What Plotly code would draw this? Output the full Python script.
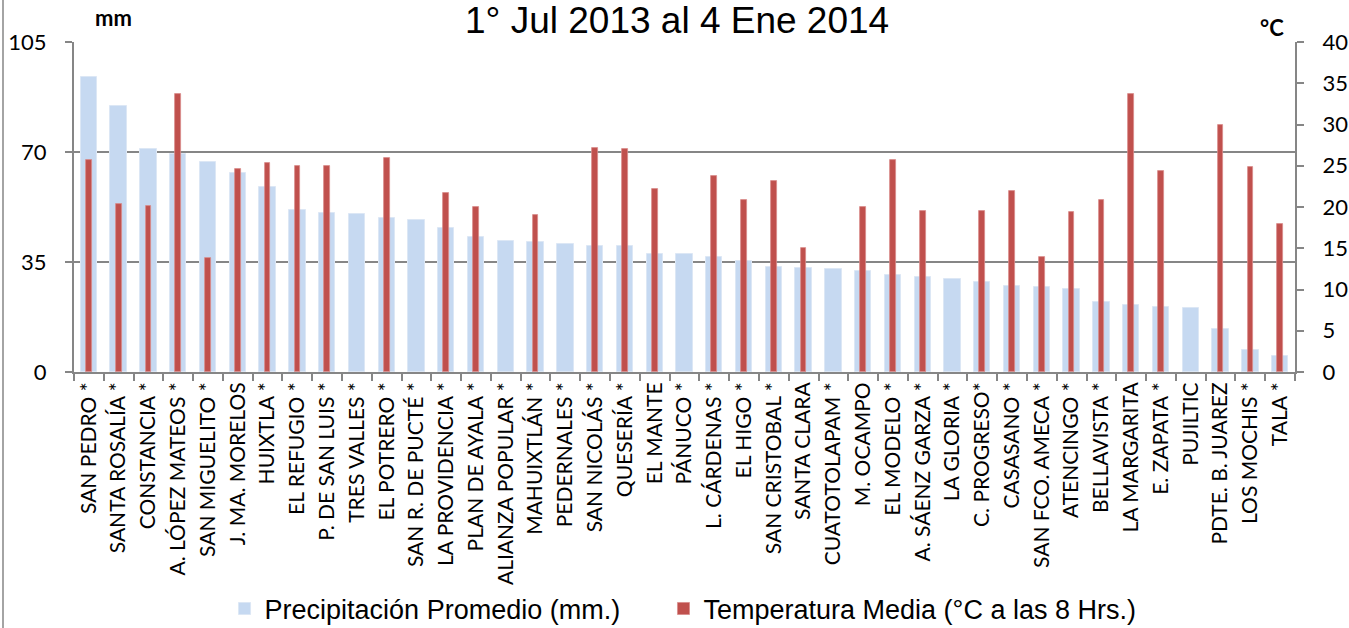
import plotly.graph_objects as go

stations = ["SAN PEDRO *", "SANTA ROSALÍA *", "CONSTANCIA *", "A. LÓPEZ MATEOS *", "SAN MIGUELITO *",
            "J. MA. MORELOS", "HUIXTLA *", "EL REFUGIO *", "P. DE SAN LUIS *", "TRES VALLES *",
            "EL POTRERO *", "SAN R. DE PUCTÉ *", "LA PROVIDENCIA *", "PLAN DE AYALA *", "ALIANZA POPULAR *",
            "MAHUIXTLÁN *", "PEDERNALES *", "SAN NICOLÁS *", "QUESERÍA *", "EL MANTE",
            "PÁNUCO *", "L. CÁRDENAS *", "EL HIGO *", "SAN CRISTOBAL *", "SANTA CLARA",
            "CUATOTOLAPAM *", "M. OCAMPO", "EL MODELO *", "A. SÁENZ GARZA *", "LA GLORIA *",
            "C. PROGRESO*", "CASASANO *", "SAN FCO. AMECA *", "ATENCINGO *", "BELLAVISTA *",
            "LA MARGARITA", "E. ZAPATA *", "PUJILTIC", "PDTE. B. JUAREZ", "LOS MOCHIS *", "TALA *"]

precip_mm = [93.8, 84.7, 71.0, 69.3, 66.7, 63.2, 58.9, 51.6, 50.6, 50.2,
             49.0, 48.3, 45.8, 43.0, 41.6, 41.5, 40.7, 40.1, 40.0, 37.5,
             37.5, 36.6, 35.3, 33.4, 33.1, 32.8, 32.0, 30.9, 30.2, 29.7,
             28.5, 27.3, 27.2, 26.5, 22.4, 21.4, 20.8, 20.3, 13.8, 7.1, 5.2]

temp_c = [25.7, 20.4, 20.1, 33.7, 13.8, 24.6, 25.3, 25.0, 25.0, None,
          25.9, None, 21.7, 20.0, None, 19.0, None, 27.2, 27.0, 22.2,
          None, 23.7, 20.9, 23.1, 15.0, None, 20.0, 25.7, 19.5, None,
          19.5, 22.0, 14.0, 19.4, 20.9, 33.7, 24.4, None, 30.0, 24.9, 17.9]

mm_ticks = [0, 35, 70, 105]
c_ticks = [0, 5, 10, 15, 20, 25, 30, 35, 40]

title_text = "1° Jul 2013 al 4 Ene 2014"
precip_name = "Precipitación Promedio (mm.)"
temp_name = "Temperatura Media (°C a las 8 Hrs.)"

GRAY = "#868686"
LATO = "Lato, Open Sans, sans-serif"
ARIAL = "Liberation Sans, Arial, sans-serif"
XTICKFONT = dict(family=LATO, size=21, color="black")
YTICKFONT = dict(family=LATO, size=22, color="black")
LEGFONT = dict(family=ARIAL, size=27, color="black")

fig = go.Figure()
fig.add_trace(go.Bar(
    x=stations, y=precip_mm, name=precip_name, width=0.55,
    marker=dict(color="#c6d9f1", line=dict(color="#dce7f5", width=1)),
    yaxis="y", legend="legend",
))
fig.add_trace(go.Bar(
    x=stations, y=temp_c, name=temp_name, width=0.19,
    marker=dict(color="#c0504d", line=dict(color="#d98c8a", width=0.8)),
    yaxis="y2", legend="legend2",
))

fig.update_layout(
    width=1349, height=628,
    margin=dict(l=74, r=54, t=42, b=256, pad=0, autoexpand=False),
    paper_bgcolor="white", plot_bgcolor="white",
    barmode="overlay",
    bargap=0,
    xaxis=dict(
        type="category", range=[-0.5, len(stations) - 0.5],
        showline=True, linecolor=GRAY, linewidth=2,
        ticks="outside", tickson="boundaries", ticklen=7, tickcolor=GRAY, tickwidth=1.5,
        tickangle=-90, tickfont=XTICKFONT, automargin=False, showgrid=False,
    ),
    yaxis=dict(
        range=[0, 105], tickvals=mm_ticks, showgrid=True, gridcolor=GRAY, gridwidth=2,
        showline=True, linecolor=GRAY, linewidth=2, ticks="outside", ticklen=7,
        tickcolor=GRAY, tickwidth=1.5, tickfont=YTICKFONT, zeroline=False, automargin=False,
        ticklabelstandoff=14,
    ),
    yaxis2=dict(
        range=[0, 40], tickvals=c_ticks, overlaying="y", side="right", showgrid=False,
        showline=True, linecolor=GRAY, linewidth=2, ticks="outside", ticklen=7,
        tickcolor=GRAY, tickwidth=1.5, tickfont=YTICKFONT, zeroline=False, automargin=False,
        ticklabelstandoff=14,
    ),
    legend=dict(
        orientation="h", x=0.1233, y=-0.718, xanchor="left", yanchor="middle",
        font=LEGFONT, itemclick=False, bgcolor="rgba(0,0,0,0)",
    ),
    legend2=dict(
        orientation="h", x=0.4828, y=-0.718, xanchor="left", yanchor="middle",
        font=LEGFONT, itemclick=False, bgcolor="rgba(0,0,0,0)",
    ),
    showlegend=True,
)

fig.add_annotation(text=title_text, xref="paper", yref="paper", x=(677 - 74) / 1221, y=1 + 44 / 330,
                   xanchor="center", yanchor="top", showarrow=False,
                   font=dict(family=ARIAL, size=37, color="black"))
fig.add_annotation(text="<b>mm</b>", xref="paper", yref="paper", x=(113 - 74) / 1221,
                   y=(372 - 18) / 330, xanchor="center", yanchor="middle", showarrow=False,
                   font=dict(family=LATO, size=22, color="black"))
fig.add_annotation(text="<b>°C</b>", xref="paper", yref="paper", x=(1272 - 74) / 1221,
                   y=(372 - 28) / 330, xanchor="center", yanchor="middle", showarrow=False,
                   font=dict(family=LATO, size=22, color="black"))

fig.add_shape(type="line", xref="paper", yref="paper", x0=(3 - 74) / 1221, x1=(3 - 74) / 1221,
              y0=-1.0, y1=1.2, line=dict(color=GRAY, width=1.5))

fig.write_html(
    "out.html",
    config={"displayModeBar": False},
    post_script="document.body.style.margin='0';document.body.style.overflow='hidden';",
)
